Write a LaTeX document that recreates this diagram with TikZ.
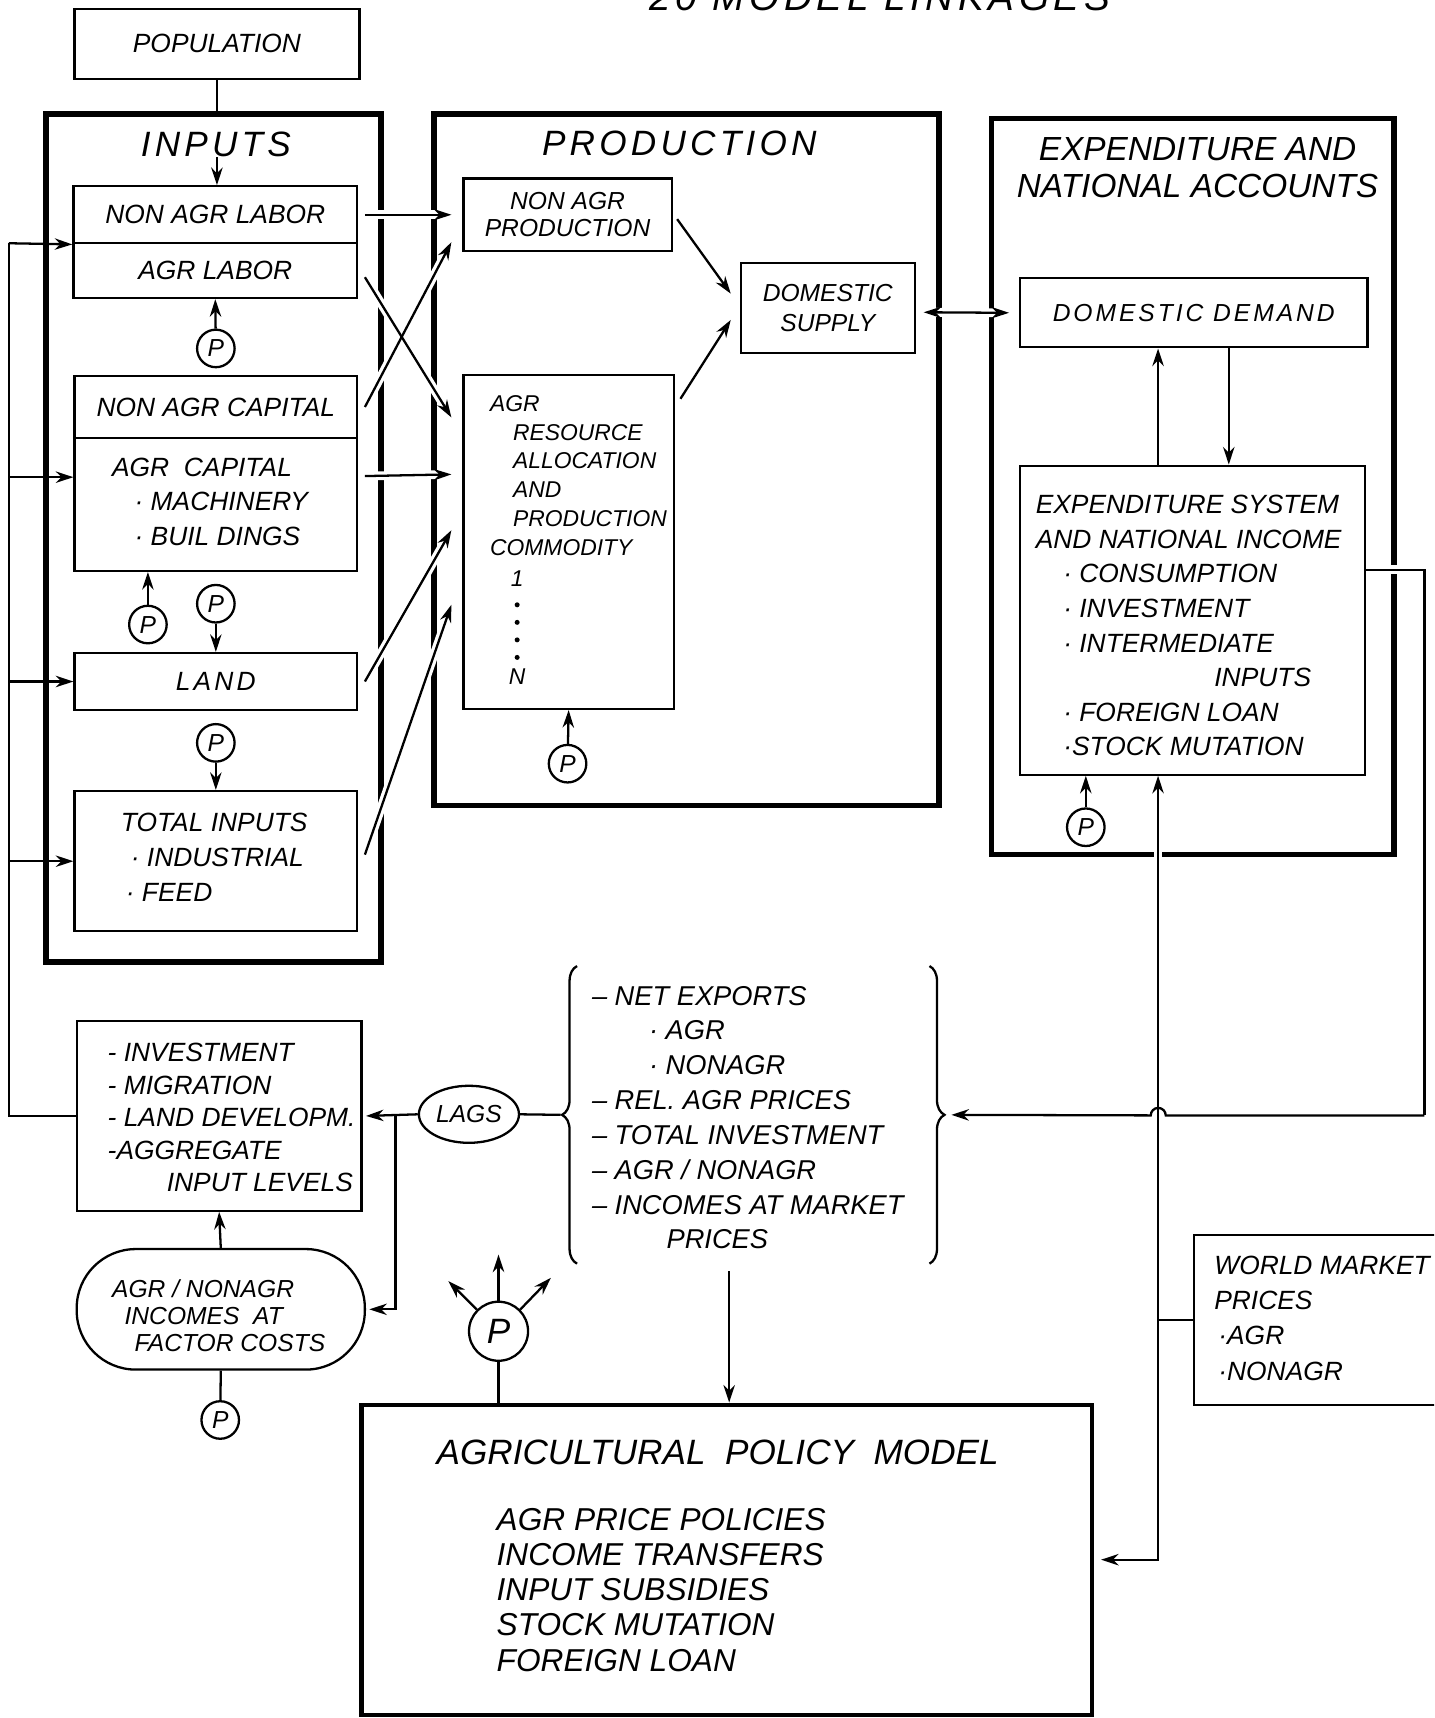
\documentclass[tikz,border=0pt]{standalone}
\usepackage{fontspec}
\setmainfont{Liberation Sans}
\newfontfamily\spaced{Liberation Sans}[LetterSpace=12]
\usetikzlibrary{arrows.meta, calc, fit, shapes.geometric, decorations.pathreplacing}
\newcommand{\hw}[2]{\fontsize{#1}{#2}\selectfont\itshape}
\tikzset{>={Stealth[length=10pt,width=6.5pt]}}
\tikzset{
  box/.style={draw, line width=1.3pt, inner sep=0pt},
  frame/.style={draw, line width=3.2pt, inner sep=0pt},
  link/.style={->, line width=1.3pt},
  wire/.style={line width=1.3pt},
  gap/.style={draw=white, line width=5pt},
  pcirc/.style={draw, circle, line width=1.3pt, minimum size=0.75cm, inner sep=0pt, font=\hw{14}{14}},
  txt/.style={inner sep=0pt, align=left},
  boxtxt/.style={inner sep=0pt, align=center, font=\hw{15}{15}},
  brace/.style={decorate, decoration={brace, amplitude=0.3cm}, line width=1.3pt},
}

\begin{document}
\begin{tikzpicture}[x=0.0219cm, y=-0.0219cm]
                \useasboundingbox (0,0) rectangle (1309,1568);
                \clip (0,0) rectangle (1309,1568);

                \node[anchor=south, inner sep=0pt, font=\spaced\hw{22}{22}] (title) at (803,10) {20 MODEL LINKAGES};

                % the three blocks
                \node[frame, fit={(42,104) (348,878)}] (inframe) {};
                \node[frame, fit={(396,104) (857,735)}] (prframe) {};
                \node[frame, fit={(905,108) (1272,780)}] (exframe) {};
                \node[inner sep=0pt, font=\spaced\hw{20}{20}] (hinp) at (197,132) {INPUTS};
                \node[inner sep=0pt, font=\spaced\hw{20}{20}] (hprod) at (620,131) {PRODUCTION};
                \node[inner sep=0pt, align=center, font=\hw{19}{20.5}] (hexp) at (1093,153) {EXPENDITURE AND\\NATIONAL ACCOUNTS};

                \node[box, fit={(68,8) (328,72)}] (pop) {};
                \node[boxtxt] (poptxt) at (pop) {POPULATION};

                \node[box, fit={(67,170) (326,222)}] (nalab) {};
                \node[boxtxt] (nalabtxt) at (nalab) {NON AGR LABOR};
                \node[box, fit={(67,222) (326,272)}] (alab) {};
                \node[boxtxt] (alabtxt) at (alab) {AGR LABOR};
                \node[box, fit={(68,343) (326,400)}] (nacap) {};
                \node[boxtxt] (nacaptxt) at (nacap) {NON AGR CAPITAL};
                \node[box, fit={(68,400) (326,521)}] (acap) {};
                \node[txt, anchor=west, font=\hw{15}{19.6}] (acaptxt) at (102,458) {AGR \ CAPITAL\\\hspace*{0.45cm}· MACHINERY\\\hspace*{0.45cm}· BUIL DINGS};
                \node[box, fit={(68,596) (326,648)}] (land) {};
                \node[boxtxt, font=\spaced\hw{15}{15}] (landtxt) at (land) {LAND};
                \node[box, fit={(68,722) (326,850)}] (tin) {};
                \node[txt, anchor=west, font=\hw{15}{19.9}] (tintxt) at (110,782) {TOTAL INPUTS\\\hspace*{0.2cm}· INDUSTRIAL\\\hspace*{0.1cm}· FEED};

                \node[pcirc] (p1) at (197,318) {P};
                \node[pcirc] (p2) at (135,570) {P};
                \node[pcirc] (p3) at (197,551) {P};
                \node[pcirc] (p4) at (197,678) {P};
                \node[pcirc] (p5) at (518,697) {P};
                \node[pcirc] (p6) at (991,755) {P};
                \node[pcirc] (p7) at (201,1296) {P};
                \node[pcirc, minimum size=1.18cm, font=\hw{20}{20}] (pp) at (455,1215) {P};

                \node[box, fit={(423,163) (613,229)}] (naprod) {};
                \node[boxtxt, font=\hw{14}{15.5}] (naprodtxt) at (naprod) {NON AGR\\PRODUCTION};
                \node[box, fit={(423,342) (615,647)}] (agr) {};
                \node[txt, anchor=west, font=\hw{13}{16.4}] (agrtxt) at (447,434) {AGR\\\hspace*{0.46cm}RESOURCE\\\hspace*{0.46cm}ALLOCATION\\\hspace*{0.46cm}AND\\\hspace*{0.46cm}PRODUCTION\\COMMODITY};
                \node[txt, font=\hw{13}{13}] (c1) at (472,528) {1};
                \foreach \y in {552,568,584,600}
                    \fill (472,\y) circle[radius=0.05cm];
                \node[txt, font=\hw{13}{13}] (cn) at (472,618) {N};
                \node[box, fit={(676,240) (835,322)}] (ds) {};
                \node[boxtxt, font=\hw{14}{17.4}] (dstxt) at (ds) {DOMESTIC\\SUPPLY};

                \node[box, fit={(931,254) (1248,317)}] (dd) {};
                \node[boxtxt, font=\spaced\hw{14}{14}] (ddtxt) at (dd) {DOMESTIC DEMAND};
                \node[box, fit={(931,425) (1246,707)}] (es) {};
                \node[txt, anchor=west, font=\hw{15}{19.7}] (estxt) at (945,571) {EXPENDITURE SYSTEM\\AND NATIONAL INCOME\\\hspace*{0.55cm}· CONSUMPTION\\\hspace*{0.55cm}· INVESTMENT\\\hspace*{0.55cm}· INTERMEDIATE\\\hspace*{3.57cm}INPUTS\\\hspace*{0.55cm}· FOREIGN LOAN\\\hspace*{0.55cm}·STOCK MUTATION};

                \node[box, fit={(70,932) (330,1105)}] (inv) {};
                \node[txt, anchor=west, font=\hw{15}{18.4}] (invtxt) at (98,1020) {- INVESTMENT\\- MIGRATION\\- LAND DEVELOPM.\\-AGGREGATE\\\hspace*{1.18cm}INPUT LEVELS};
                \node[draw, ellipse, line width=1.3pt, minimum width=2cm, minimum height=1.14cm, inner sep=0pt, font=\hw{14}{14}] (lags) at (428,1017) {LAGS};
                \node[box, rounded corners=1.18cm, fit={(70,1140) (333,1250)}] (inc) {};
                \node[txt, anchor=west, font=\hw{14}{15.4}] (inctxt) at (102,1201) {AGR / NONAGR\\\hspace*{0.25cm}INCOMES \ AT\\\hspace*{0.45cm}FACTOR COSTS};

                \node[fit={(527,882) (848,1153)}, inner sep=0pt] (netx) {};
                \node[txt, anchor=west, font=\hw{15.5}{19.8}] (netxtxt) at (540,1020) {-- NET EXPORTS\\\hspace*{1.14cm}· AGR\\\hspace*{1.14cm}· NONAGR\\-- REL. AGR PRICES\\-- TOTAL INVESTMENT\\-- AGR / NONAGR\\-- INCOMES AT MARKET\\\hspace*{1.49cm}PRICES};

                \node[box, line width=2.4pt, fit={(330,1282) (997,1565)}] (apm) {};
                \node[inner sep=0pt, font=\hw{20}{20}] (apmtitle) at (655,1326) {AGRICULTURAL\ \ POLICY\ \ MODEL};
                \node[txt, anchor=west, font=\hw{18}{20}] (apmtxt) at (453,1451) {AGR PRICE POLICIES\\INCOME TRANSFERS\\INPUT SUBSIDIES\\STOCK MUTATION\\FOREIGN LOAN};

                \node[box, fit={(1090,1127) (1345,1282)}] (wmp) {};
                \node[txt, anchor=west, font=\hw{15}{20.1}] (wmptxt) at (1108,1203) {WORLD MARKET\\PRICES\\\hspace*{0.08cm}·AGR\\\hspace*{0.08cm}·NONAGR};

                % population and price arrows
                \draw[wire] (pop.south) -- (pop.south |- inframe.north);
                \draw[link] (pop.south |- hinp.south) -- (pop.south |- nalab.north);
                \draw[link] (p1) -- (alab.south);
                \draw[link] (p2) -- (p2 |- acap.south);
                \draw[link] (p3) -- (land.north);
                \draw[link] (p4) -- (tin.north);
                \draw[link] (p5) -- (agr.south);
                \draw[link] (p6) -- (p6 |- es.south);

                % feedback into the inputs
                \coordinate (fb) at (8,222);
                \coordinate (acapin) at ($(acap.west)+(0,-25)$);
                \draw[wire] (inv.west) -| (fb);
                \draw[link] (fb) -- (nalab.south west);
                \draw[link] (fb |- acapin) -- (acapin);
                \foreach \n in {land.west, tin.west}
                    \draw[link] (fb |- \n) -- (\n);

                % inputs into production
                \coordinate (s1) at ($(nalab.east)+(6,0)$);
                \coordinate (e1) at ($(naprod.west)+(-10,0)$);
                \coordinate (s2) at ($(alab.east)+(6,6)$);
                \coordinate (e2) at ($(agr.north west)+(-10,40)$);
                \coordinate (s3) at ($(nacap.east)+(6,0)$);
                \coordinate (e3) at ($(naprod.south west)+(-10,-9)$);
                \coordinate (s4) at ($(acap.east)+(6,-26)$);
                \coordinate (e4) at ($(agr.north west)+(-10,92)$);
                \coordinate (s5) at ($(land.east)+(6,0)$);
                \coordinate (e5) at ($(agr.north west)+(-10,143)$);
                \coordinate (s6) at ($(tin.east)+(6,-6)$);
                \coordinate (e6) at ($(agr.north west)+(-10,211)$);
                \foreach \s/\e in {s1/e1, s2/e2, s3/e3, s4/e4, s5/e5, s6/e6}
                    \draw[gap] (\s) -- (\e);
                \foreach \s/\e in {s1/e1, s2/e2, s3/e3, s4/e4, s5/e5, s6/e6}
                    \draw[link] (\s) -- (\e);

                \draw[link] ($(naprod.east)+(4,4)$) -- ($(ds.west)+(-8,-13)$);
                \draw[link] ($(agr.north east)+(5,23)$) -- ($(ds.west)+(-8,11)$);
                \draw[gap] ($(ds.east)+(7,4)$) -- ($(dd.west)+(-9,0)$);
                \draw[link, <->] ($(ds.east)+(7,4)$) -- ($(dd.west)+(-9,0)$);

                % world market prices and the expenditure loop
                \coordinate (wj) at ($(wmp.west)+(-32,0)$);
                \draw[link] (wj |- es.north) -- (wj |- dd.south);
                \draw[link] ($(dd.south)+(32,0)$) -- ($(es.north)+(33,0)$);
                \draw[wire] (wmp.west) -- (wj);
                \draw[gap] (wj |- exframe.south) ++(0,-8) -- ++(0,16);
                \draw[link] (wj) -- (wj |- es.south);
                \draw[link] (wj) |- ($(apm.east)+(6,0)$);

                \coordinate (lc) at (1300,1018);
                \coordinate (ec) at ($(es.east)+(0,-46)$);
                \draw[gap] (ec -| exframe.east) ++(-8,0) -- ++(16,0);
                \draw[wire] (ec) -| (lc);
                \draw[link] (lc) -- ($(wj |- lc)+(7,0)$) arc[start angle=0, end angle=180, radius=0.15cm] -- ($(netx.east)+(20,0)$);

                % net exports, lags and incomes
                \draw[brace] (netx.south west) -- (netx.north west);
                \draw[brace] (netx.north east) -- (netx.south east);
                \draw[wire] ($(netx.west)+(-15,0)$) -- (lags.east);
                \draw[link] (lags.west) -- ($(inv.east)+(3,0)$);
                \coordinate (lj) at ($(inv.east)+(30,0)$);
                \draw[link] (lj) |- ($(inc.east)+(3,0)$);
                \draw[link] (inc.north) -- (inv.south);
                \draw[wire] (inc.south) -- (p7);

                \coordinate (nxs) at ($(netx.south)+(-22,7)$);
                \draw[link] (nxs) -- (nxs |- apm.north);

                % policy instruments
                \draw[wire] (pp) -- (pp |- apm.north);
                \coordinate (pu) at ($(pp.north)+(0,-42)$);
                \coordinate (pl) at ($(pp.north west)+(-26,-26)$);
                \coordinate (pr) at ($(pp.north east)+(28,-29)$);
                \foreach \a/\t in {north/pu, north west/pl, north east/pr}
                    \draw[link] (pp.\a) -- (\t);
            \end{tikzpicture}
\end{document}
